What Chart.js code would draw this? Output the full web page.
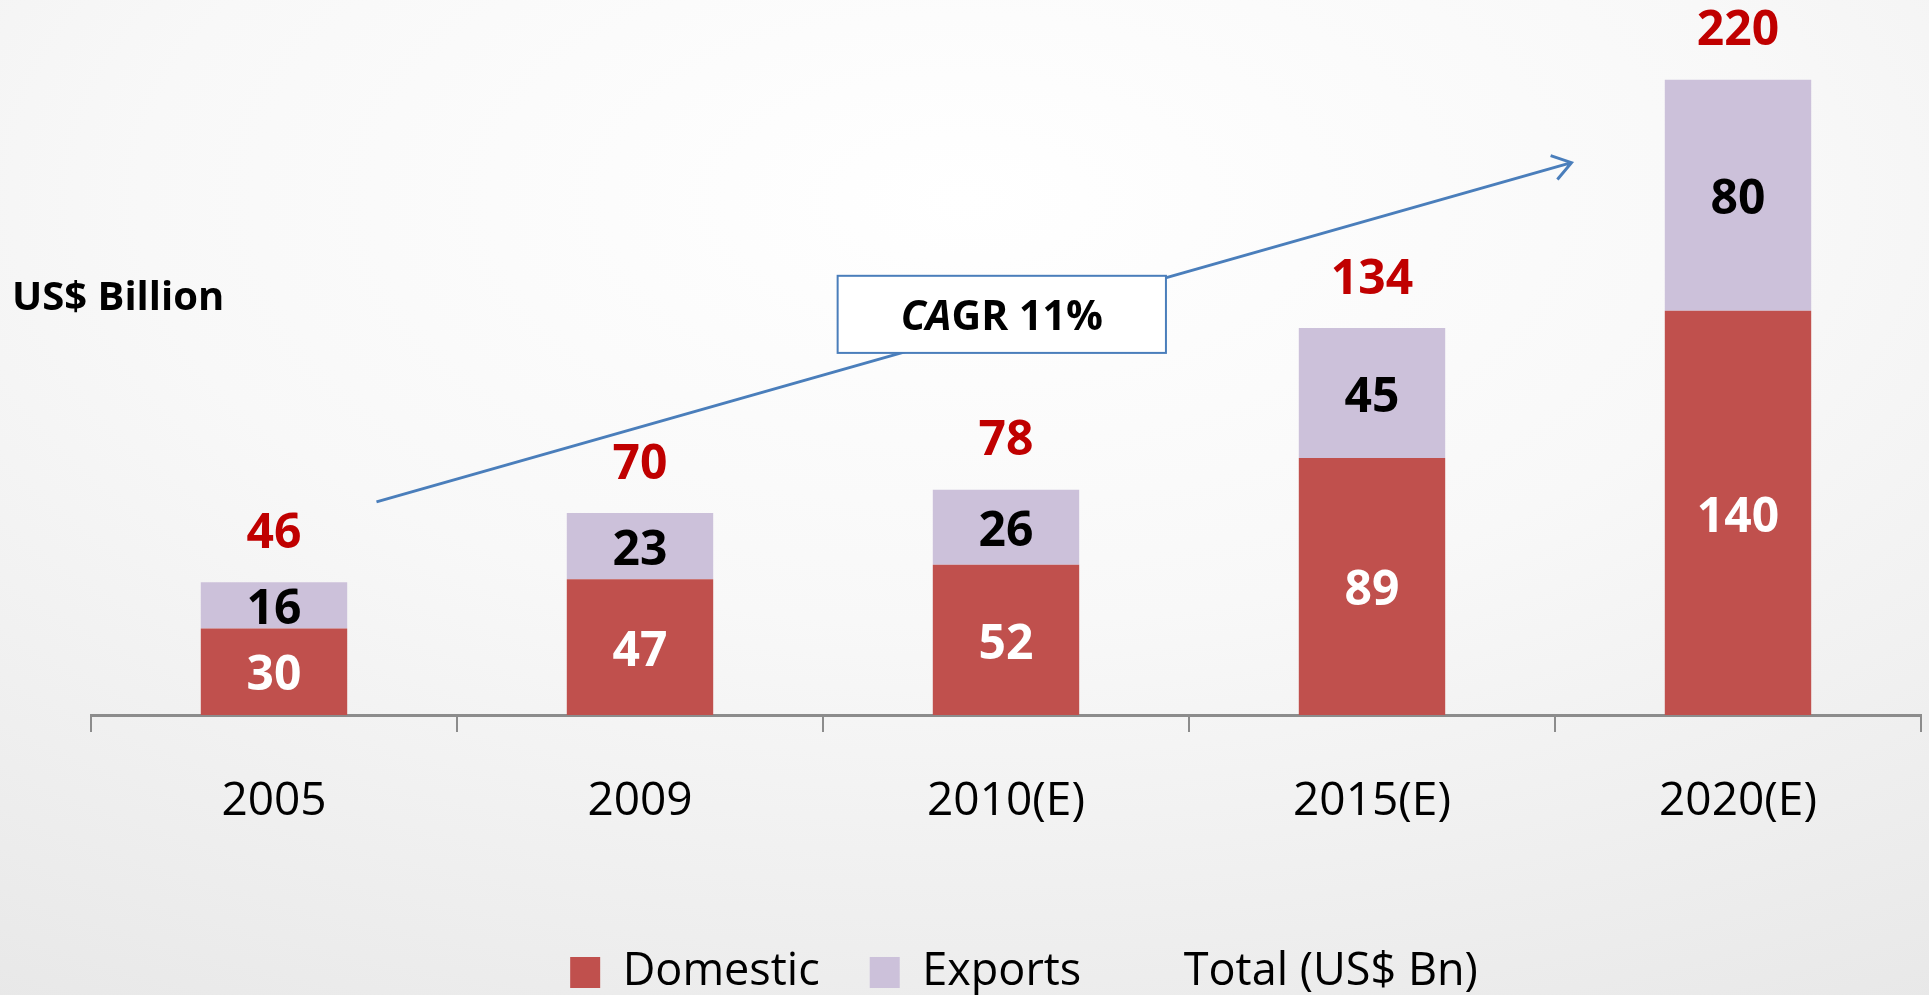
<!DOCTYPE html>
<html>
<head>
<meta charset="utf-8">
<script src="https://cdn.jsdelivr.net/npm/chart.js@4.4.0/dist/chart.umd.min.js"></script>
<style>
    html, body { margin: 0; padding: 0; width: 1929px; height: 995px; overflow: hidden; }
    body { background: radial-gradient(ellipse 95% 95% at 50% 20%, #ffffff 0%, #f8f8f8 45%, #e8e8e8 100%); }
    #wrap { width: 1929px; height: 995px; position: relative; }
</style>
</head>
<body>
<div id="wrap"><canvas id="chartExports"></canvas></div>
<script>
// ===== DADOS =====
const years = ['2005', '2009', '2010(E)', '2015(E)', '2020(E)'];
const domestic = [30, 47, 52, 89, 140];
const exportsBn = [16, 23, 26, 45, 80];
const totals = [46, 70, 78, 134, 220];

const FONT = '"Open Sans", "Liberation Sans", sans-serif';

// ===== ROTULOS DAS BARRAS =====
const labelsPlugin = {
    id: 'barLabels',
    afterDatasetsDraw(chart) {
        const ctx = chart.ctx;
        const yScale = chart.scales.y;
        ctx.save();
        ctx.textAlign = 'center';
        ctx.textBaseline = 'middle';
        ctx.font = 'bold 48px ' + FONT;

        [0, 1].forEach(di => {
            const meta = chart.getDatasetMeta(di);
            meta.data.forEach((bar, i) => {
                const p = bar.getProps(['x', 'y', 'base'], true);
                ctx.fillStyle = di === 0 ? '#ffffff' : '#000000';
                ctx.fillText(String(chart.data.datasets[di].data[i]), p.x, (p.y + p.base) / 2 + 5);
            });
        });

        // totais acima da pilha
        const topMeta = chart.getDatasetMeta(1);
        totals.forEach((t, i) => {
            ctx.fillStyle = '#C00000';
            ctx.fillText(String(t), topMeta.data[i].x, yScale.getPixelForValue(t) - 48);
        });
        ctx.restore();
    }
};

// ===== DESLOCAR LEGENDA =====
const legendShift = {
    id: 'legendShift',
    afterLayout(chart) {
        chart.legend.left += 18;
        chart.legend.right += 18;
    }
};

// ===== SETA CAGR E TITULO =====
const cagrPlugin = {
    id: 'cagrArrow',
    afterDraw(chart) {
        const ctx = chart.ctx;
        const xs = chart.scales.x;
        const ys = chart.scales.y;

        // linha da seta (posicoes nas escalas)
        const x0 = xs.getPixelForValue(0.28), y0 = ys.getPixelForValue(73.8);
        const x1 = xs.getPixelForValue(3.545), y1 = ys.getPixelForValue(191.3);
        ctx.save();
        ctx.strokeStyle = '#4A7EBB';
        ctx.lineWidth = 3;
        ctx.beginPath();
        ctx.moveTo(x0, y0);
        ctx.lineTo(x1, y1);
        const ang = Math.atan2(y1 - y0, x1 - x0);
        const len = 22;
        ctx.moveTo(x1 + len * Math.cos(ang + Math.PI - 0.6), y1 + len * Math.sin(ang + Math.PI - 0.6));
        ctx.lineTo(x1, y1);
        ctx.lineTo(x1 + len * Math.cos(ang + Math.PI + 0.6), y1 + len * Math.sin(ang + Math.PI + 0.6));
        ctx.stroke();

        // caixa
        const bx0 = xs.getPixelForValue(1.54), bx1 = xs.getPixelForValue(2.437);
        const by0 = ys.getPixelForValue(152.1), by1 = ys.getPixelForValue(125.4);
        ctx.fillStyle = '#ffffff';
        ctx.fillRect(bx0, by0, bx1 - bx0, by1 - by0);
        ctx.lineWidth = 2;
        ctx.strokeRect(bx0, by0, bx1 - bx0, by1 - by0);

        // texto CAGR 11%
        const italic = 'italic bold 41px ' + FONT;
        const normal = 'bold 41px ' + FONT;
        ctx.font = italic;
        const w1 = ctx.measureText('CA').width;
        ctx.font = normal;
        const w2 = ctx.measureText('GR 11%').width;
        let tx = (bx0 + bx1) / 2 - (w1 + w2) / 2;
        const ty = (by0 + by1) / 2 + 4;
        ctx.fillStyle = '#000000';
        ctx.textBaseline = 'middle';
        ctx.textAlign = 'left';
        ctx.font = italic;
        ctx.fillText('CA', tx, ty);
        ctx.font = normal;
        ctx.fillText('GR 11%', tx + w1, ty);

        // titulo do eixo
        ctx.font = 'bold 40px ' + FONT;
        ctx.fillText('US$ Billion', 12, 299);
        ctx.restore();
    }
};

// ===== GRAFICO =====
function initChart() {
    const ctx = document.getElementById('chartExports').getContext('2d');
    new Chart(ctx, {
        type: 'bar',
        data: {
            labels: years,
            datasets: [{
                label: 'Domestic',
                data: domestic,
                backgroundColor: '#C0504D',
                barPercentage: 0.4,
                categoryPercentage: 1
            }, {
                label: 'Exports',
                data: exportsBn,
                backgroundColor: '#CCC1DA',
                barPercentage: 0.4,
                categoryPercentage: 1
            }, {
                type: 'line',
                label: 'Total (US$ Bn)',
                data: totals,
                stack: 'total',
                showLine: false,
                pointRadius: 0,
                backgroundColor: 'rgba(0,0,0,0)',
                borderColor: 'rgba(0,0,0,0)'
            }]
        },
        options: {
            responsive: true,
            maintainAspectRatio: false,
            animation: false,
            layout: { padding: { top: 22, left: 91, right: 8, bottom: -10 } },
            plugins: {
                tooltip: { enabled: false },
                legend: {
                    position: 'bottom',
                    labels: {
                        color: '#000000',
                        font: { size: 45, family: FONT },
                        boxWidth: 30,
                        boxHeight: 31,
                        padding: 50
                    }
                }
            },
            scales: {
                x: {
                    stacked: true,
                    grid: {
                        drawOnChartArea: false,
                        color: '#8c8c8c',
                        lineWidth: 2,
                        tickLength: 17
                    },
                    border: { color: '#8c8c8c', width: 3 },
                    ticks: {
                        color: '#000000',
                        font: { size: 46, family: FONT },
                        padding: 42
                    },
                    afterFit: scale => { scale.height = 185; }
                },
                y: {
                    display: false,
                    stacked: true,
                    min: 0,
                    max: 240
                }
            }
        },
        plugins: [labelsPlugin, cagrPlugin, legendShift]
    });
}

document.addEventListener('DOMContentLoaded', initChart);
</script>
</body>
</html>
